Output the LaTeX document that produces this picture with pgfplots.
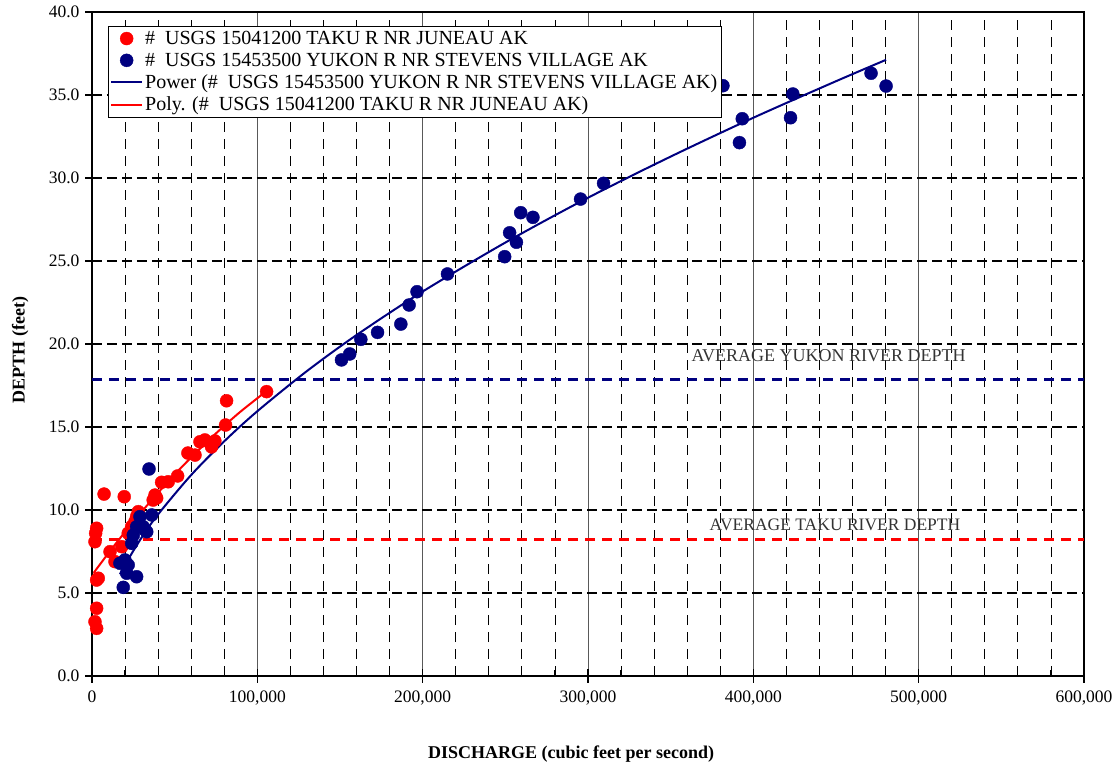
\documentclass[border=0pt]{standalone}
\usepackage{pgfplots}
\pgfplotsset{compat=1.18}
\usepackage{fontspec}
\setmainfont{Liberation Serif}
\definecolor{navy}{RGB}{0,0,128}
\definecolor{tred}{RGB}{255,0,0}

\begin{document}
\begin{tikzpicture}
\begin{axis}[
  at={(0,0)}, anchor=south west,
  scale only axis, width=992pt, height=664pt,
  xmin=0, xmax=600000, ymin=0, ymax=40,
  xtick={0,100000,200000,300000,400000,500000,600000},
  minor x tick num=4,
  ytick={0,5,10,15,20,25,30,35,40},
  scaled x ticks=false,
  xticklabel style={yshift=-11pt, /pgf/number format/.cd, fixed, 1000 sep={,}},
  yticklabel style={xshift=-9pt, /pgf/number format/.cd, fixed, fixed zerofill, precision=1},
  /pgf/number format/assume math mode=true,
  ticklabel style={font=\fontsize{17.5}{20}\selectfont},
  tick pos=left,
  tick align=inside,
  major tick length=13pt, minor tick length=6pt,
  major x tick style={yshift=-6.5pt},
  major y tick style={xshift=-6.5pt},
  tick style={black, line width=1.2pt},
  xmajorgrids, xminorgrids, ymajorgrids,
  major x grid style={black!65, line width=0.9pt, solid},
  minor x grid style={black, line width=0.8pt, dash pattern=on 10pt off 7pt},
  major y grid style={black, line width=1.6pt, dash pattern=on 10pt off 5pt},
  axis line style={line width=2.5pt},
  xlabel={\textbf{DISCHARGE (cubic feet per second)}},
  ylabel={\textbf{DEPTH (feet)}},
  label style={font=\fontsize{18}{20}\selectfont},
  xlabel style={at={(axis description cs:0.483,-0.1235)}, anchor=base},
  ylabel style={at={(axis description cs:-0.068,0.491)}, anchor=base},
  legend style={at={(axis description cs:0.0161,0.979)}, anchor=north west,
    draw=black, fill=white, font=\fontsize{20}{23}\selectfont,
    inner xsep=2pt, inner ysep=3pt, row sep=3pt,
    /tikz/every even column/.append style={column sep=10pt}},
  legend cell align=left,
  legend image code/.code={\draw[mark repeat=2,mark phase=2,#1] plot coordinates {(0pt,0pt) (15.5pt,0pt) (31pt,0pt)};},
]
% average lines
\addplot[forget plot, navy, line width=3pt, dash pattern=on 10pt off 7pt] coordinates {(0,17.89) (600000,17.89)};
\addplot[forget plot, tred, line width=3pt, dash pattern=on 10pt off 7pt] coordinates {(0,8.24) (600000,8.24)};
\node[anchor=base west, inner sep=0pt, font=\fontsize{18}{20}\selectfont, text=black!80] at (axis cs:362500,18.95) {AVERAGE YUKON RIVER DEPTH};
\node[anchor=base west, inner sep=0pt, font=\fontsize{17.5}{20}\selectfont, text=black!80] at (axis cs:373500,8.75) {AVERAGE TAKU RIVER DEPTH};

% Taku
\addplot[only marks, mark=*, mark size=6.5pt, mark options={draw=tred, fill=tred, line width=0.4pt}] coordinates {
(105600,17.13) (81400,16.58) (80800,15.12) (74300,14.16) (72300,13.80)
(68300,14.22) (65300,14.11) (62300,13.31) (58000,13.43) (51800,12.05)
(46100,11.70) (42100,11.67) (39100,10.72) (37000,10.60) (38100,10.90)
(28000,9.90) (27000,9.60) (19500,10.80) (7300,10.96) (2800,8.90)
(2200,8.60) (1800,8.09) (10900,7.49) (18000,7.79) (13900,6.89)
(3800,5.89) (2800,5.78) (2800,4.08) (1800,3.27) (2800,2.87)
(21900,8.60) (24000,9.00) (26000,9.30)
};
\addlegendentry{\#\ \ USGS 15041200 TAKU R NR JUNEAU AK}

% Yukon
\addplot[only marks, mark=*, mark size=6.5pt, mark options={draw=navy, fill=navy, line width=0.4pt}] coordinates {
(34500,12.47) (36100,9.70) (33100,8.69) (29000,9.60) (27000,8.99)
(25000,8.49) (24000,7.99) (31000,8.99) (32000,8.80) (19900,6.99)
(16900,6.79) (21900,6.69) (21000,6.19) (27000,5.98) (18900,5.34)
(150900,19.04) (155900,19.40) (162600,20.28) (172700,20.70) (186800,21.20)
(191800,22.35) (196600,23.15) (215000,24.22) (249600,25.26) (252600,26.70)
(256700,26.13) (259300,27.91) (266700,27.63) (295500,28.73) (309400,29.68)
(381600,35.56) (393300,33.57) (391600,32.13) (423900,35.06) (422500,33.63)
(471200,36.31) (480300,35.54)
};
\addlegendentry{\#\ \ USGS 15453500 YUKON R NR STEVENS VILLAGE AK}

% Power trendline (Yukon)
\addplot[navy, line width=2pt, smooth] coordinates {
(16900,6.13) (20000,6.71) (30000,8.34) (40000,9.74) (60000,12.11)
(80000,14.14) (100000,15.95) (130000,18.37) (160000,20.54) (200000,23.16)
(250000,26.11) (300000,28.81) (350000,31.29) (400000,33.63) (450000,35.83)
(480300,37.12)
};
\addlegendentry{Power (\#\ \ USGS 15453500 YUKON R NR STEVENS VILLAGE AK)}

% Poly trendline (Taku)
\addplot[tred, line width=2pt, smooth] coordinates {
(1000,6.21) (10000,7.41) (20000,8.68) (30000,9.89) (40000,11.04)
(50000,12.14) (60000,13.17) (70000,14.15) (80000,15.07) (90000,15.94)
(105600,17.17)
};
\addlegendentry{Poly. (\#\ \ USGS 15041200 TAKU R NR JUNEAU AK)}
\end{axis}
\pgfresetboundingbox
\path[use as bounding box] (-92pt,-93pt) rectangle (1028pt,676pt);
\end{tikzpicture}
\end{document}
